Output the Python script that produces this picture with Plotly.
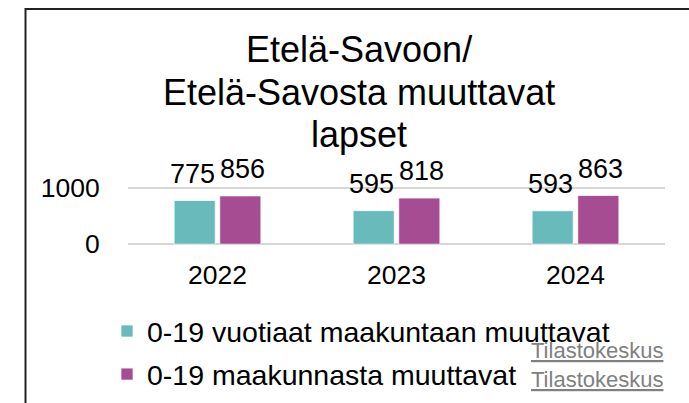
import plotly.graph_objects as go

# ---- data ----
years = ["2022", "2023", "2024"]
series_names = ["0-19 vuotiaat maakuntaan muuttavat", "0-19 maakunnasta muuttavat"]
moving_in = [775, 595, 593]
moving_out = [856, 818, 863]
title_lines = ["Etelä-Savoon/", "Etelä-Savosta muuttavat", "lapset"]
source_label = "Tilastokeskus"
y_ticks = [0, 1000]
y_range = [-50, 1050]

# ---- layout geometry (pixels) ----
W, H = 689, 403
L, R, T, B = 128, 24, 185, 156
PW, PH = W - L - R, H - T - B

def px_x(px):
    return (px - L) / PW

def px_y(py):
    return (H - B - py) / PH

FONT = "Liberation Sans, Arial, sans-serif"
TEAL = "#69BBBB"
MAGENTA = "#A54C93"

fig = go.Figure()
fig.add_trace(go.Bar(x=years, y=moving_in, name=series_names[0], legendgroup="a",
                     marker=dict(color=TEAL, line=dict(color="rgba(255,255,255,0.7)", width=1))))
fig.add_trace(go.Bar(x=years, y=moving_out, name=series_names[1], legendgroup="b",
                     marker=dict(color=MAGENTA, line=dict(color="rgba(255,255,255,0.7)", width=1))))

annotations = []
# data labels (x given as category index so it isn't read as a number)
for vals, shift in ((moving_in, -25), (moving_out, 25)):
    for i, v in enumerate(vals):
        annotations.append(dict(x=i, y=v, xref="x", yref="y", text=str(v),
                                showarrow=False, xshift=shift, yshift=11,
                                yanchor="bottom", borderpad=0,
                                font=dict(family=FONT, size=27, color="black")))
# title lines
for line, cy in zip(title_lines, (49.5, 92, 134.5)):
    annotations.append(dict(x=px_x(359), y=px_y(cy), xref="paper", yref="paper",
                            text=line, showarrow=False, xanchor="center", yanchor="middle",
                            borderpad=0, font=dict(family=FONT, size=36, color="black")))
# source links
for cy in (350, 379.5):
    annotations.append(dict(x=px_x(596.5), y=px_y(cy), xref="paper", yref="paper",
                            text="<u>" + source_label + "</u>", showarrow=False,
                            xanchor="center", yanchor="middle", borderpad=0,
                            font=dict(family=FONT, size=22, color="#808080")))

fig.update_layout(
    width=W, height=H,
    margin=dict(l=L, r=R, t=T, b=B, pad=0, autoexpand=False),
    paper_bgcolor="white", plot_bgcolor="white",
    barmode="group", bargap=0.49, bargroupgap=0.1,
    font=dict(family=FONT, color="black"),
    annotations=annotations,
    shapes=[dict(type="rect", xref="paper", yref="paper",
                 x0=px_x(25.5), x1=px_x(720), y0=px_y(9), y1=px_y(430),
                 line=dict(color="#222222", width=2))],
    legend=dict(x=px_x(107), y=px_y(306), xanchor="left", yanchor="top",
                font=dict(family=FONT, size=28.5, color="black"),
                bgcolor="rgba(0,0,0,0)", itemwidth=30, tracegroupgap=3),
    showlegend=True,
)
fig.update_xaxes(type="category", range=[-0.5, 2.5], showgrid=False, zeroline=False,
                 showline=False, tickfont=dict(family=FONT, size=26.5, color="black"),
                 ticks="outside", ticklen=4, tickcolor="rgba(0,0,0,0)")
fig.update_yaxes(range=y_range, tickvals=y_ticks, showgrid=True,
                 gridcolor="#D6D6D6", gridwidth=2, zeroline=False, showline=False,
                 tickfont=dict(family=FONT, size=26.5, color="black"),
                 ticks="outside", ticklen=22, tickcolor="rgba(0,0,0,0)")

fig.write_html("out.html", config={"displayModeBar": False},
               post_script="document.body.style.margin='0';document.body.style.overflow='hidden';")
